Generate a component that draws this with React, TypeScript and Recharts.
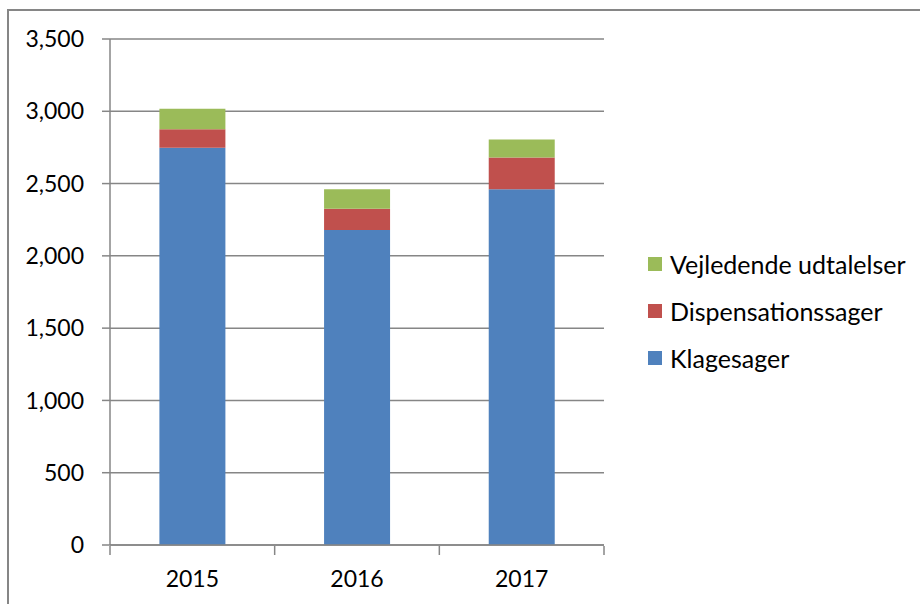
import React from 'react'
import { Bar, BarChart, CartesianGrid, Legend, XAxis, YAxis } from 'recharts'

const years = ['2015', '2016', '2017']
const klagesager = [2748, 2179, 2461]
const dispensationssager = [127, 146, 220]
const vejledendeUdtalelser = [142, 136, 123]
const yTicks = [0, 500, 1000, 1500, 2000, 2500, 3000, 3500]
const edgeTicks = [0, 1, 2, 3]

const series = [
  { key: 'klagesager', name: 'Klagesager', color: '#4F81BD' },
  { key: 'dispensationssager', name: 'Dispensationssager', color: '#C0504D' },
  { key: 'vejledende', name: 'Vejledende udtalelser', color: '#9BBB59' },
]

const data = years.map((year, i) => ({
  year,
  pos: i,
  klagesager: klagesager[i],
  dispensationssager: dispensationssager[i],
  vejledende: vejledendeUdtalelser[i],
}))

const FONT = 'Lato, "Liberation Sans", sans-serif'
const GRAY = '#868686'

const LegendContent = () => (
  <div style={{ fontFamily: FONT, fontSize: 25, color: '#000' }}>
    {[...series].reverse().map((s) => (
      <div key={s.key} style={{ display: 'flex', alignItems: 'center', height: 47 }}>
        <span style={{ width: 14, height: 14, background: s.color, marginRight: 8 }} />
        <span>{s.name}</span>
      </div>
    ))}
  </div>
)

const NoLabel = () => <g />

export default function App() {
  return (
    <div style={{ position: 'absolute', left: 0, top: 0, width: 920, height: 604, background: '#fff' }}>
      <div
        style={{
          position: 'absolute',
          left: 7,
          top: 9,
          width: 913,
          height: 595,
          borderTop: `2px solid ${GRAY}`,
          borderLeft: `2px solid ${GRAY}`,
        }}
      />
      <BarChart
        width={920}
        height={604}
        data={data}
        margin={{ top: 39, right: 16, left: 0, bottom: 0 }}
        barCategoryGap="30%"
        style={{ position: 'absolute', left: 0, top: 0 }}
      >
        <CartesianGrid horizontal vertical={false} stroke={GRAY} strokeWidth={1.5} />
        {/* category labels; boundary tick marks come from the numeric axis below */}
        <XAxis
          dataKey="year"
          height={1}
          tickLine={false}
          axisLine={{ stroke: GRAY, strokeWidth: 1.5 }}
          tickMargin={20}
          tick={{ fontFamily: FONT, fontSize: 23, fill: '#000' }}
        />
        <XAxis
          xAxisId="edges"
          dataKey="pos"
          type="number"
          domain={[0, 3]}
          ticks={edgeTicks}
          allowDataOverflow
          height={58}
          tick={NoLabel}
          tickSize={9}
          tickLine={{ stroke: GRAY, strokeWidth: 1.5 }}
          axisLine={false}
        />
        <YAxis
          width={110}
          domain={[0, 3500]}
          ticks={yTicks}
          tickFormatter={(v: number) => v.toLocaleString('en-US')}
          tickSize={8}
          tickMargin={18}
          tickLine={{ stroke: GRAY, strokeWidth: 1.5 }}
          axisLine={{ stroke: GRAY, strokeWidth: 1.5 }}
          tick={{ fontFamily: FONT, fontSize: 23, fill: '#000' }}
        />
        <Legend
          layout="vertical"
          align="right"
          verticalAlign="top"
          content={<LegendContent />}
          wrapperStyle={{ left: 648, top: 240, width: 300 }}
        />
        {series.map((s) => (
          <Bar
            key={s.key}
            dataKey={s.key}
            name={s.name}
            stackId="a"
            fill={s.color}
            isAnimationActive={false}
          />
        ))}
      </BarChart>
    </div>
  )
}
